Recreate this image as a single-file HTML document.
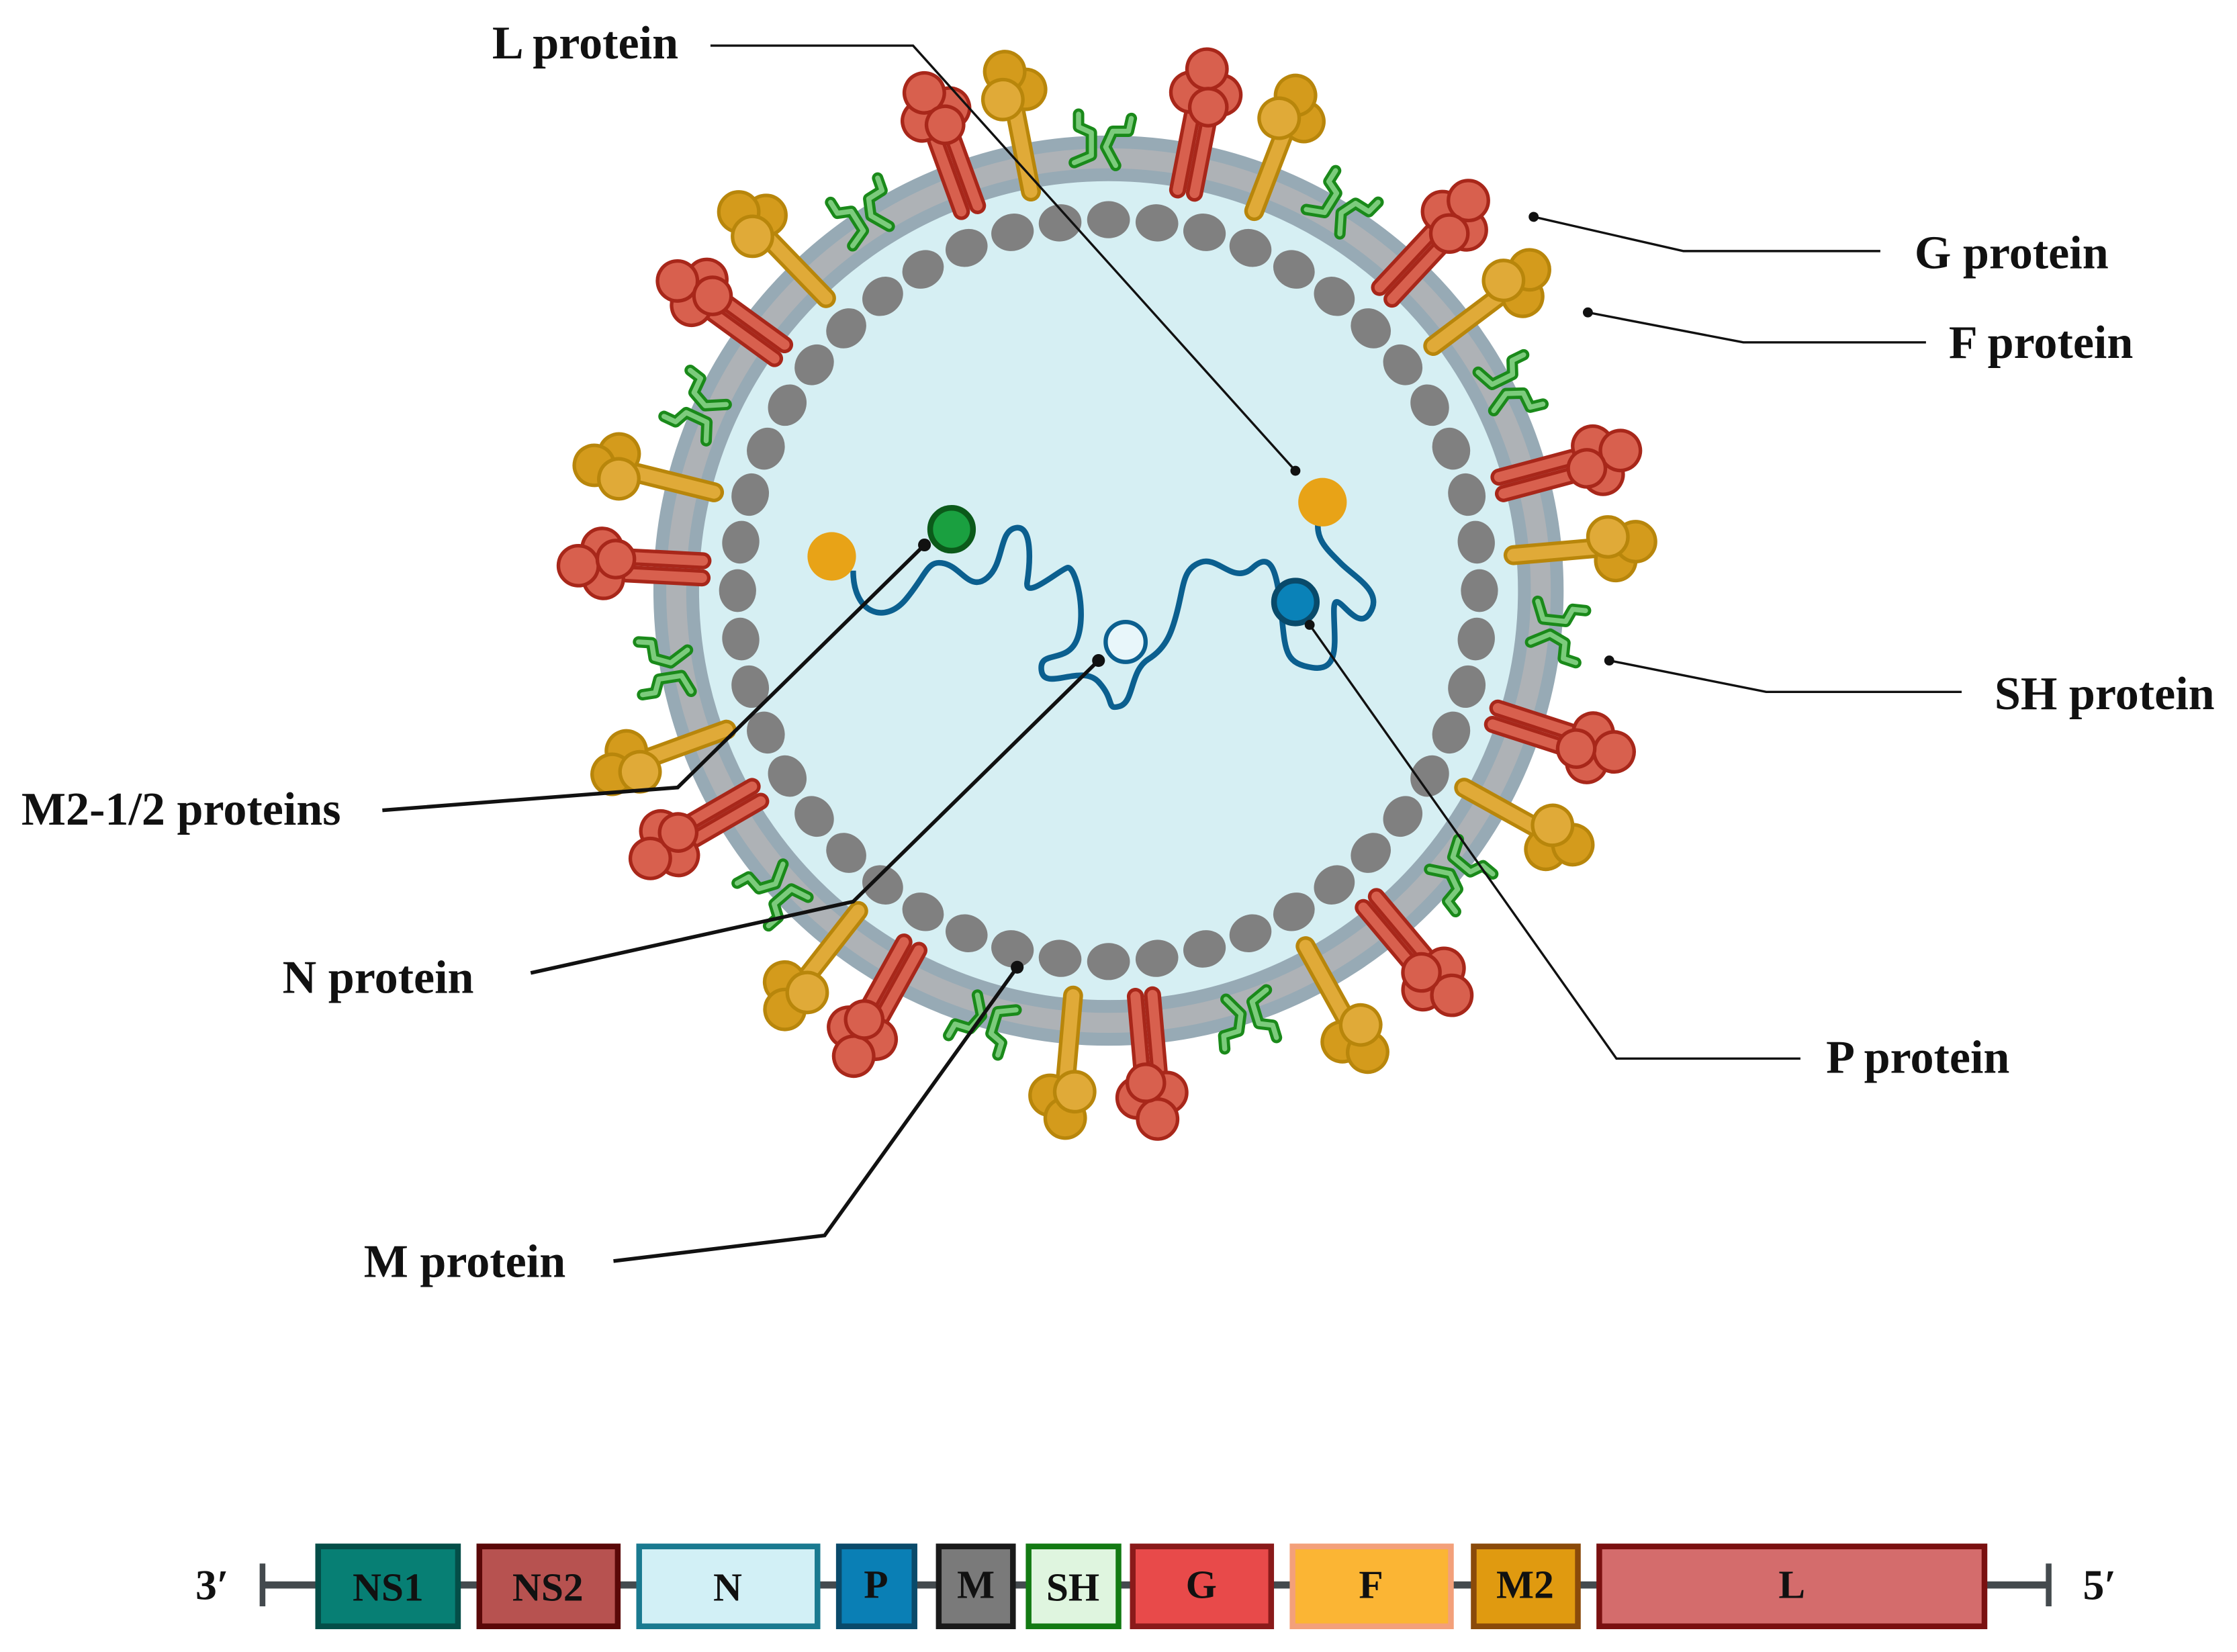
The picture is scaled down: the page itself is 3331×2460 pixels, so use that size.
<!DOCTYPE html>
<html><head><meta charset="utf-8"><style>
html,body{margin:0;padding:0;background:#fff;}
svg{display:block;}
text{font-family:"Liberation Serif",serif;font-weight:bold;fill:#111;}
</style></head><body>
<svg width="3331" height="2460" viewBox="0 0 1568 1158" xmlns="http://www.w3.org/2000/svg">
<defs>
<g id="red">
<line x1="-6" y1="-285" x2="-6" y2="-338" stroke="#a8271a" stroke-width="12" stroke-linecap="round"/>
<line x1="-6" y1="-285" x2="-6" y2="-338" stroke="#d8604e" stroke-width="7" stroke-linecap="round"/>
<line x1="6" y1="-285" x2="6" y2="-338" stroke="#a8271a" stroke-width="12" stroke-linecap="round"/>
<line x1="6" y1="-285" x2="6" y2="-338" stroke="#d8604e" stroke-width="7" stroke-linecap="round"/>
<circle cx="-10" cy="-354" r="14" fill="#d8604e" stroke="#a8271a" stroke-width="2.5"/>
<circle cx="11" cy="-356" r="14" fill="#d8604e" stroke="#a8271a" stroke-width="2.5"/>
<circle cx="-2" cy="-372" r="14" fill="#d8604e" stroke="#a8271a" stroke-width="2.5"/>
<circle cx="4" cy="-346" r="13" fill="#d8604e" stroke="#a8271a" stroke-width="2.5"/>
</g>
<g id="gold">
<line x1="0" y1="-285" x2="0" y2="-342" stroke="#b8860b" stroke-width="14" stroke-linecap="round"/>
<line x1="0" y1="-285" x2="0" y2="-342" stroke="#e0aa38" stroke-width="9" stroke-linecap="round"/>
<circle cx="10" cy="-356" r="14" fill="#d49b1c" stroke="#b8860b" stroke-width="2.5"/>
<circle cx="-2" cy="-371" r="14" fill="#d49b1c" stroke="#b8860b" stroke-width="2.5"/>
<circle cx="-7" cy="-352" r="14" fill="#e0aa38" stroke="#b8860b" stroke-width="2.5"/>
</g>
<g id="sh">
<path d="M-24,-300 l12,-5 l0,-16 l-9,-4 l0,-9 M5,-298 l-7,-13 l5,-11 l11,0 l2,-9" fill="none" stroke="#1a8a1a" stroke-width="8" stroke-linecap="round" stroke-linejoin="round"/>
<path d="M-24,-300 l12,-5 l0,-16 l-9,-4 l0,-9 M5,-298 l-7,-13 l5,-11 l11,0 l2,-9" fill="none" stroke="#7ccb7c" stroke-width="3.5" stroke-linecap="round" stroke-linejoin="round"/>
</g>
<ellipse id="dot" cx="0" cy="-260" rx="15" ry="13" fill="#808080"/>
</defs>

<g transform="translate(777,414)">
<circle r="303" fill="#d6eff3" stroke="#97aab5" stroke-width="32"/>
<circle r="303" fill="none" stroke="#aeb2b6" stroke-width="14"/>
<g>
<use href="#dot" transform="rotate(0)"/><use href="#dot" transform="rotate(7.5)"/><use href="#dot" transform="rotate(15)"/><use href="#dot" transform="rotate(22.5)"/><use href="#dot" transform="rotate(30)"/><use href="#dot" transform="rotate(37.5)"/><use href="#dot" transform="rotate(45)"/><use href="#dot" transform="rotate(52.5)"/><use href="#dot" transform="rotate(60)"/><use href="#dot" transform="rotate(67.5)"/><use href="#dot" transform="rotate(75)"/><use href="#dot" transform="rotate(82.5)"/><use href="#dot" transform="rotate(90)"/><use href="#dot" transform="rotate(97.5)"/><use href="#dot" transform="rotate(105)"/><use href="#dot" transform="rotate(112.5)"/><use href="#dot" transform="rotate(120)"/><use href="#dot" transform="rotate(127.5)"/><use href="#dot" transform="rotate(135)"/><use href="#dot" transform="rotate(142.5)"/><use href="#dot" transform="rotate(150)"/><use href="#dot" transform="rotate(157.5)"/><use href="#dot" transform="rotate(165)"/><use href="#dot" transform="rotate(172.5)"/><use href="#dot" transform="rotate(180)"/><use href="#dot" transform="rotate(187.5)"/><use href="#dot" transform="rotate(195)"/><use href="#dot" transform="rotate(202.5)"/><use href="#dot" transform="rotate(210)"/><use href="#dot" transform="rotate(217.5)"/><use href="#dot" transform="rotate(225)"/><use href="#dot" transform="rotate(232.5)"/><use href="#dot" transform="rotate(240)"/><use href="#dot" transform="rotate(247.5)"/><use href="#dot" transform="rotate(255)"/><use href="#dot" transform="rotate(262.5)"/><use href="#dot" transform="rotate(270)"/><use href="#dot" transform="rotate(277.5)"/><use href="#dot" transform="rotate(285)"/><use href="#dot" transform="rotate(292.5)"/><use href="#dot" transform="rotate(300)"/><use href="#dot" transform="rotate(307.5)"/><use href="#dot" transform="rotate(315)"/><use href="#dot" transform="rotate(322.5)"/><use href="#dot" transform="rotate(330)"/><use href="#dot" transform="rotate(337.5)"/><use href="#dot" transform="rotate(345)"/><use href="#dot" transform="rotate(352.5)"/>
</g>
<use href="#sh" transform="rotate(0)"/><use href="#sh" transform="rotate(32)"/><use href="#sh" transform="rotate(64)"/><use href="#sh" transform="rotate(96)"/><use href="#sh" transform="rotate(130)"/><use href="#sh" transform="rotate(163)"/><use href="#sh" transform="rotate(197)"/><use href="#sh" transform="rotate(229)"/><use href="#sh" transform="rotate(261)"/><use href="#sh" transform="rotate(295)"/><use href="#sh" transform="rotate(328)"/>
<use href="#red" transform="rotate(-20)"/><use href="#gold" transform="rotate(-11)"/>
<use href="#red" transform="rotate(11)"/><use href="#gold" transform="rotate(21)"/>
<use href="#red" transform="rotate(43)"/><use href="#gold" transform="rotate(53)"/>
<use href="#red" transform="rotate(75)"/><use href="#gold" transform="rotate(85)"/>
<use href="#red" transform="rotate(108)"/><use href="#gold" transform="rotate(119)"/>
<use href="#red" transform="rotate(140)"/><use href="#gold" transform="rotate(151)"/>
<use href="#red" transform="rotate(175)"/><use href="#gold" transform="rotate(185)"/>
<use href="#red" transform="rotate(209)"/><use href="#gold" transform="rotate(218)"/>
<use href="#red" transform="rotate(240)"/><use href="#gold" transform="rotate(250)"/>
<use href="#red" transform="rotate(273)"/><use href="#gold" transform="rotate(284)"/>
<use href="#red" transform="rotate(306)"/><use href="#gold" transform="rotate(316)"/>
</g>

<path d="M598,400 C598,430 620,438 635,420 S650,392 662,395 S680,415 692,405 S700,372 712,370 S722,395 720,408 S742,400 748,398 S762,430 755,448 S728,455 730,470 S758,465 770,478 S775,498 785,495 S792,470 805,462 S822,442 826,425 S830,398 842,394 S865,410 878,398 S895,400 898,428 S900,465 920,468 S935,448 935,428 S950,445 960,430 S950,405 940,395 S922,378 924,365" fill="none" stroke="#0b5f8f" stroke-width="4" stroke-linejoin="round"/>
<circle cx="583" cy="390" r="17" fill="#e8a317"/>
<circle cx="927" cy="352" r="17" fill="#e8a317"/>
<circle cx="667" cy="371" r="15" fill="#1aa040" stroke="#0b5a1a" stroke-width="4"/>
<circle cx="789" cy="450" r="14" fill="#e8f6fa" stroke="#0b5f8f" stroke-width="3"/>
<circle cx="908" cy="422" r="15" fill="#0a82b8" stroke="#094a6a" stroke-width="4"/>

<g fill="none" stroke="#111" stroke-width="1.6">
<polyline points="498,32 640,32 908,330"/>
<polyline points="1075,152 1180,176 1318,176"/>
<polyline points="1113,219 1222,240 1350,240"/>
<polyline points="1128,463 1238,485 1375,485"/>
<polyline points="918,438 1133,742 1262,742"/>
</g>
<g fill="none" stroke="#111" stroke-width="2.6">
<polyline points="268,568 475,552 648,382"/>
<polyline points="372,682 598,632 770,463"/>
<polyline points="430,884 578,866 713,678"/>
</g>
<g fill="#111">
<circle cx="908" cy="330" r="3.5"/><circle cx="1075" cy="152" r="3.5"/><circle cx="1113" cy="219" r="3.5"/><circle cx="1128" cy="463" r="3.5"/><circle cx="918" cy="438" r="3.5"/><circle cx="648" cy="382" r="4.5"/><circle cx="770" cy="463" r="4.5"/><circle cx="713" cy="678" r="4.5"/>
</g>
<g font-size="33">
<text x="345" y="41">L protein</text>
<text x="1342" y="188">G protein</text>
<text x="1366" y="251">F protein</text>
<text x="1398" y="497">SH protein</text>
<text x="1280" y="752">P protein</text>
<text x="15" y="578">M2-1/2 proteins</text>
<text x="198" y="696">N protein</text>
<text x="255" y="895">M protein</text>
</g>

<line x1="183" y1="1111" x2="1436" y2="1111" stroke="#444a4e" stroke-width="5"/>
<line x1="184" y1="1096" x2="184" y2="1126" stroke="#444a4e" stroke-width="4"/>
<line x1="1436" y1="1096" x2="1436" y2="1126" stroke="#444a4e" stroke-width="4"/>
<g stroke-width="4">
<rect x="223" y="1084" width="98" height="56" fill="#077f74" stroke="#044e48"/>
<rect x="336" y="1084" width="97" height="56" fill="#b75250" stroke="#5a0808"/>
<rect x="448" y="1084" width="125" height="56" fill="#d2f0f6" stroke="#1a7a90"/>
<rect x="588" y="1084" width="53" height="56" fill="#0a7fb5" stroke="#0a4a6a"/>
<rect x="658" y="1084" width="52" height="56" fill="#7a7a7a" stroke="#1a1a1a"/>
<rect x="721" y="1084" width="63" height="56" fill="#dff5df" stroke="#137a13"/>
<rect x="794" y="1084" width="97" height="56" fill="#e84a4a" stroke="#8a1a1a"/>
<rect x="906" y="1084" width="111" height="56" fill="#fbb534" stroke="#f3a07a"/>
<rect x="1033" y="1084" width="73" height="56" fill="#e09a10" stroke="#8a4a0a"/>
<rect x="1121" y="1084" width="270" height="56" fill="#d46c6c" stroke="#7a1010"/>
</g>
<g font-size="28" text-anchor="middle">
<text x="272" y="1122">NS1</text>
<text x="384" y="1122">NS2</text>
<text x="510" y="1122">N</text>
<text x="614" y="1120">P</text>
<text x="684" y="1120">M</text>
<text x="752" y="1122">SH</text>
<text x="842" y="1120">G</text>
<text x="961" y="1120">F</text>
<text x="1069" y="1120">M2</text>
<text x="1256" y="1120">L</text>
</g>
<text x="137" y="1121" font-size="30">3′</text>
<text x="1460" y="1121" font-size="30">5′</text>
</svg>
</body></html>
